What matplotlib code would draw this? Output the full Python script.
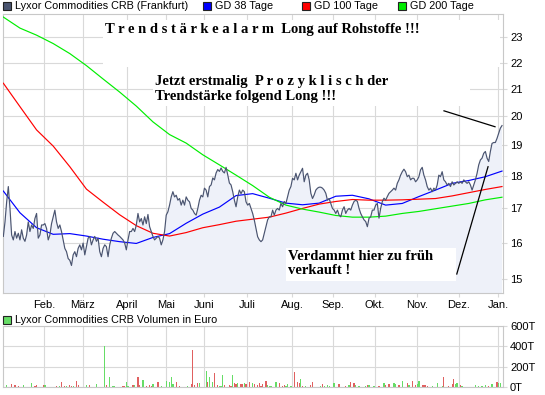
import numpy as np
import matplotlib
matplotlib.use("Agg")
import matplotlib.pyplot as plt
from matplotlib.patches import Rectangle

# Kurs (ca. jeder 1,66 px ein Wert)
price = [
    16.18, 16.60, 17.20, 17.67, 17.00, 16.22, 16.08, 16.32, 16.13, 16.27, 16.08,
    16.37, 16.13, 16.04, 16.22, 16.60, 16.32, 16.51, 16.41, 16.70, 16.85,
    16.13, 16.22, 16.51, 16.51, 16.55, 16.41, 16.08, 16.22, 16.55, 16.75,
    16.95, 16.60, 16.41, 16.51, 16.32, 16.08, 15.84, 15.75, 15.56, 15.51,
    15.37, 15.66, 15.75, 15.61, 15.84, 15.94, 15.80, 15.99, 15.66, 15.89,
    16.13, 16.18, 15.94, 16.08, 16.18, 16.04, 16.13, 15.75, 15.61, 15.84,
    15.94, 15.89, 15.61, 15.94, 16.13, 16.27, 16.32, 16.27, 16.22, 16.18,
    16.13, 16.08, 15.99, 15.80, 16.08, 16.32, 16.32, 16.41, 16.32, 16.51,
    16.85, 16.60, 16.70, 16.51, 16.75, 16.55, 16.82, 16.46, 16.32, 16.18,
    16.08, 16.13, 16.18, 16.13, 15.94, 16.08, 16.32, 16.80, 16.90, 17.10,
    17.35, 17.51, 17.35, 17.40, 17.25, 17.30, 17.10, 17.25, 17.10, 17.35,
    17.25, 17.20, 17.00, 16.95, 16.85, 16.80, 17.00, 17.25, 17.40, 17.35,
    17.62, 17.56, 17.35, 17.67, 17.72, 17.94, 17.88, 18.10, 18.21, 18.15,
    18.26, 18.15, 18.10, 18.28, 18.04, 17.78, 17.72, 17.51, 17.25, 17.05,
    17.35, 17.56, 17.45, 17.56, 17.51, 17.20, 17.10, 17.15, 17.00, 16.85,
    16.65, 16.41,
    16.17, 16.08, 16.03, 16.08, 16.27, 16.46, 16.66, 16.75, 16.75, 16.95,
    16.80, 16.95, 17.00, 16.95, 17.15, 17.05, 17.21, 17.15, 17.36, 17.56,
    17.67, 17.93, 17.88, 18.09, 17.88, 18.03, 18.14, 18.25, 17.82, 18.03,
    18.09, 17.88, 17.46, 17.30, 17.41, 17.56, 17.62, 17.65, 17.65, 17.62,
    17.56, 17.46, 17.25, 17.30, 17.15, 17.00, 16.95, 16.85, 16.95, 16.80,
    16.75, 16.95, 17.05, 16.85, 16.95, 17.00, 16.95, 17.10, 17.21, 17.25,
    17.21, 17.00, 16.85, 16.75, 16.66, 16.61, 16.46, 16.71, 16.75, 16.95,
    16.95, 17.10, 17.15, 16.71, 17.00, 17.21, 17.31, 17.25, 17.36, 17.46,
    17.51, 17.56, 17.62, 17.56, 17.77, 17.88, 18.03, 18.14, 18.22, 18.14,
    17.98, 18.03, 17.88, 17.93, 17.93, 17.82, 17.88, 17.98, 18.20, 18.28,
    18.03, 17.88, 17.67, 17.56, 17.62, 17.51, 17.62, 17.56, 17.72, 18.03,
    17.98, 18.14, 17.88, 17.82, 17.72, 17.77, 17.67, 17.82, 17.72, 17.77,
    17.82, 17.77, 17.82, 17.77, 17.88, 17.82, 17.77, 17.82, 17.72, 17.56,
    17.72, 17.88, 18.09, 18.36, 18.52, 18.58, 18.74, 18.80, 18.58, 18.47,
    18.80, 19.07, 19.10, 19.10, 19.24, 19.42, 19.59, 19.68,
]

# gleitende Durchschnitte, jeder 10. Punkt
gd_step = 10
gd38 = [17.53, 16.87, 16.43, 16.24, 16.26, 16.19, 16.10, 16.03, 15.98, 16.15,
        16.26, 16.56, 16.83, 17.04, 17.39, 17.45, 17.31, 17.16, 17.11, 17.16,
        17.37, 17.40, 17.29, 17.10, 17.15, 17.36, 17.56, 17.77, 17.86, 17.98, 18.16]
gd100 = [21.21, 20.35, 19.53, 18.98, 18.30, 17.59, 17.19, 16.81, 16.49, 16.27,
         16.19, 16.29, 16.43, 16.52, 16.62, 16.68, 16.74, 16.86, 17.00, 17.13,
         17.21, 17.27, 17.25, 17.25, 17.26, 17.28, 17.30, 17.38, 17.48, 17.58, 17.67]
gd200 = [23.84, 23.38, 23.09, 22.75, 22.35, 21.88, 21.37, 20.88, 20.37, 19.81,
         19.37, 19.08, 18.69, 18.36, 18.03, 17.70, 17.34, 17.10, 16.98, 16.89,
         16.79, 16.74, 16.74, 16.77, 16.85, 16.91, 16.99, 17.07, 17.15, 17.26, 17.34]

# Volumen (Tag, Tausend Euro, steigend?)
vol_day = [0, 2, 5, 7, 9, 12, 17, 19, 20, 24, 25, 32, 34, 35, 37, 38, 40, 41, 42, 44,
           45, 50, 52, 56, 61, 62, 64, 66, 67, 72, 73, 74, 75, 78, 79, 81, 82, 84, 86, 88,
           89, 90, 93, 95, 98, 100, 101, 102, 104, 106, 111, 113, 114, 115, 117, 118, 122, 123, 124, 126,
           127, 129, 130, 131, 132, 133, 136, 137, 138, 139, 140, 141, 143, 144, 145, 146, 148, 150, 151, 153,
           154, 155, 156, 158, 159, 160, 161, 164, 166, 168, 169, 170, 171, 173, 175, 177, 178, 179, 180, 182,
           185, 186, 191, 192, 193, 195, 196, 199, 202, 206, 208, 209, 211, 212, 214, 218, 219, 220, 223, 226,
           229, 230, 232, 235, 236, 238, 240, 243, 244, 246, 248, 249, 250, 252, 253, 254, 255, 258, 261, 264,
           265, 268, 270, 271, 272, 273, 275, 276, 284, 286, 288, 290, 292, 294, 297, 298, 299]
vol_value = [20, 20, 31, 20, 14, 20, 41, 14, 20, 20, 20, 10, 10, 52, 14, 14, 20, 14, 14, 62,
             20, 20, 20, 31, 405, 20, 103, 14, 10, 10, 10, 52, 14, 20, 20, 103, 20, 72, 14, 20,
             14, 28, 52, 14, 62, 52, 103, 28, 52, 14, 14, 28, 362, 20, 35, 41, 155, 45, 97, 52,
             138, 20, 14, 14, 114, 20, 20, 14, 114, 35, 28, 41, 28, 28, 41, 28, 52, 35, 28, 20,
             35, 14, 28, 62, 20, 10, 10, 52, 41, 14, 20, 14, 28, 14, 148, 52, 41, 83, 14, 14,
             20, 52, 14, 28, 14, 20, 14, 41, 28, 14, 20, 52, 35, 20, 14, 14, 20, 20, 14, 14,
             35, 20, 28, 35, 28, 20, 62, 35, 20, 62, 20, 28, 62, 20, 20, 20, 14, 14, 41, 14,
             97, 14, 28, 83, 28, 41, 20, 14, 20, 14, 14, 20, 14, 28, 45, 35, 35]
vol_up = "ggrrrgg rrrgrgrrgrrgr rgrggrgggrrggrgrrgrr rgrgggggrrg rrrrggrgg rrgggrrrgr rgrrgrrgrrrrrrggg grrrg ggrrrgrgrrgrggggrrgrrgggrggrgrrggrgrgrrggrr rrgg grrrrggrgggggrgrgg"

months = ["Feb.", "März", "April", "Mai", "Juni", "Juli", "Aug.", "Sep.", "Okt.", "Nov.", "Dez.", "Jan."]
month_start = [24.5, 47.9, 74.4, 97.9, 120.7, 146.6, 173.7, 198.3, 223.6, 248.9, 274.1, 297.6]
price_ticks = [15, 16, 17, 18, 19, 20, 21, 22, 23]
vol_ticks = [0, 200, 400, 600]

GRID = "#d9d9d9"
LINE = "#4a5470"
FILL = "#eef1f9"
VGREEN = "#66dd66"
VRED = "#e06060"
SANS = "Liberation Sans"
SERIF = "Liberation Serif"

W, H = 545, 395
fig = plt.figure(figsize=(W / 100, H / 100), dpi=100)


def fx(px):
    return px / W


def fy(py):
    return 1 - py / H


ax = fig.add_axes([fx(3), fy(293), fx(500), 279 / H])
vax = fig.add_axes([fx(3), fy(387), fx(500), 61 / H])

x = np.arange(len(price))
xg = np.arange(len(gd38)) * gd_step
xg[-1] = min(xg[-1], len(price) - 1)

ax.set_yscale("log")
ymin, ymax = 14.64, 23.97
ax.fill_between(x, price, ymin / 2, color=FILL, lw=0, zorder=1)
ax.plot(x, price, color=LINE, lw=0.85, zorder=4)
ax.plot(xg, gd38, color="#0000ff", lw=0.85, zorder=3)
ax.plot(xg, gd100, color="#ff0000", lw=0.85, zorder=3)
ax.plot(xg, gd200, color="#00ee00", lw=0.85, zorder=3)
ax.set_ylim(ymin, ymax)

for a in (ax, vax):
    a.set_xlim(-0.2, 300.6)
    a.set_xticks(month_start)
    a.grid(True, color=GRID, lw=0.8, zorder=0)
    a.set_axisbelow(True)
    a.yaxis.tick_right()
    a.tick_params(axis="both", length=3, color=GRID, labelsize=8, pad=2)
    for s in a.spines.values():
        s.set_color("#c8c8c8")
        s.set_linewidth(0.8)

ax.set_yticks(price_ticks)
ax.set_yticklabels([str(t) for t in price_ticks], fontfamily=SANS, fontsize=8)
ax.yaxis.set_minor_locator(matplotlib.ticker.NullLocator())
ax.set_xticklabels(months, fontfamily=SANS, fontsize=8)

vcol = [VGREEN if c == "g" else VRED for c in vol_up.replace(" ", "")]
vax.bar(vol_day, vol_value, width=0.75, color=vcol, lw=0, zorder=2)
vax.set_ylim(0, 600)
vax.set_yticks(vol_ticks)
vax.set_yticklabels([f"{t}T" for t in vol_ticks], fontfamily=SANS, fontsize=8)
vax.set_xticklabels([])
vax.tick_params(axis="x", length=0)


# weiße Kästen für die Kommentare
def box(x0, y0, x1, y1):
    ax.add_patch(Rectangle(((x0 - 3) / 500, (293 - y1) / 279), (x1 - x0) / 500, (y1 - y0) / 279,
                           transform=ax.transAxes, facecolor="white", edgecolor="none", zorder=5))


box(103, 20, 500, 67)
box(153, 67, 470, 106)
box(286, 248, 456, 281)

tkw = dict(transform=ax.transAxes, family=SERIF, fontweight="bold", fontsize=10.5, zorder=6,
           va="center", ha="left")
ax.text((105 - 3) / 500, (293 - 30) / 279,
        "T r e n d s t ä r k e a l a r m  Long auf Rohstoffe !!!", **tkw)
ax.text((155 - 3) / 500, (293 - 81.5) / 279, "Jetzt erstmalig  P r o z y k l i s c h der", **tkw)
ax.text((155 - 3) / 500, (293 - 96.5) / 279, "Trendstärke folgend Long !!!", **tkw)
ax.text((288 - 3) / 500, (293 - 256) / 279, "Verdammt hier zu früh", **tkw)
ax.text((288 - 3) / 500, (293 - 271) / 279, "verkauft !", **tkw)

# Zeigerlinien
ax.plot([265.1, 295.8], [20.20, 19.64], color="black", lw=0.9, zorder=7)
ax.plot([272.8, 291.6], [15.14, 18.30], color="black", lw=0.9, zorder=7)


# Legenden oben
def legend_item(px, py, color, label):
    fig.patches.append(Rectangle((fx(px), fy(py + 8)), 8 / W, 8 / H, transform=fig.transFigure,
                                 facecolor=color, edgecolor="#222222", lw=0.8))
    fig.text(fx(px + 12), fy(py + 4), label, family=SANS, fontsize=7.8, va="center", ha="left")


legend_item(3, 2, LINE, "Lyxor Commodities CRB (Frankfurt)")
legend_item(203, 2, "#0000ff", "GD 38 Tage")
legend_item(302, 2, "#ff0000", "GD 100 Tage")
legend_item(398, 2, "#00ee00", "GD 200 Tage")
legend_item(3, 316, VGREEN, "Lyxor Commodities CRB Volumen in Euro")

fig.savefig("out.png", dpi=100)
